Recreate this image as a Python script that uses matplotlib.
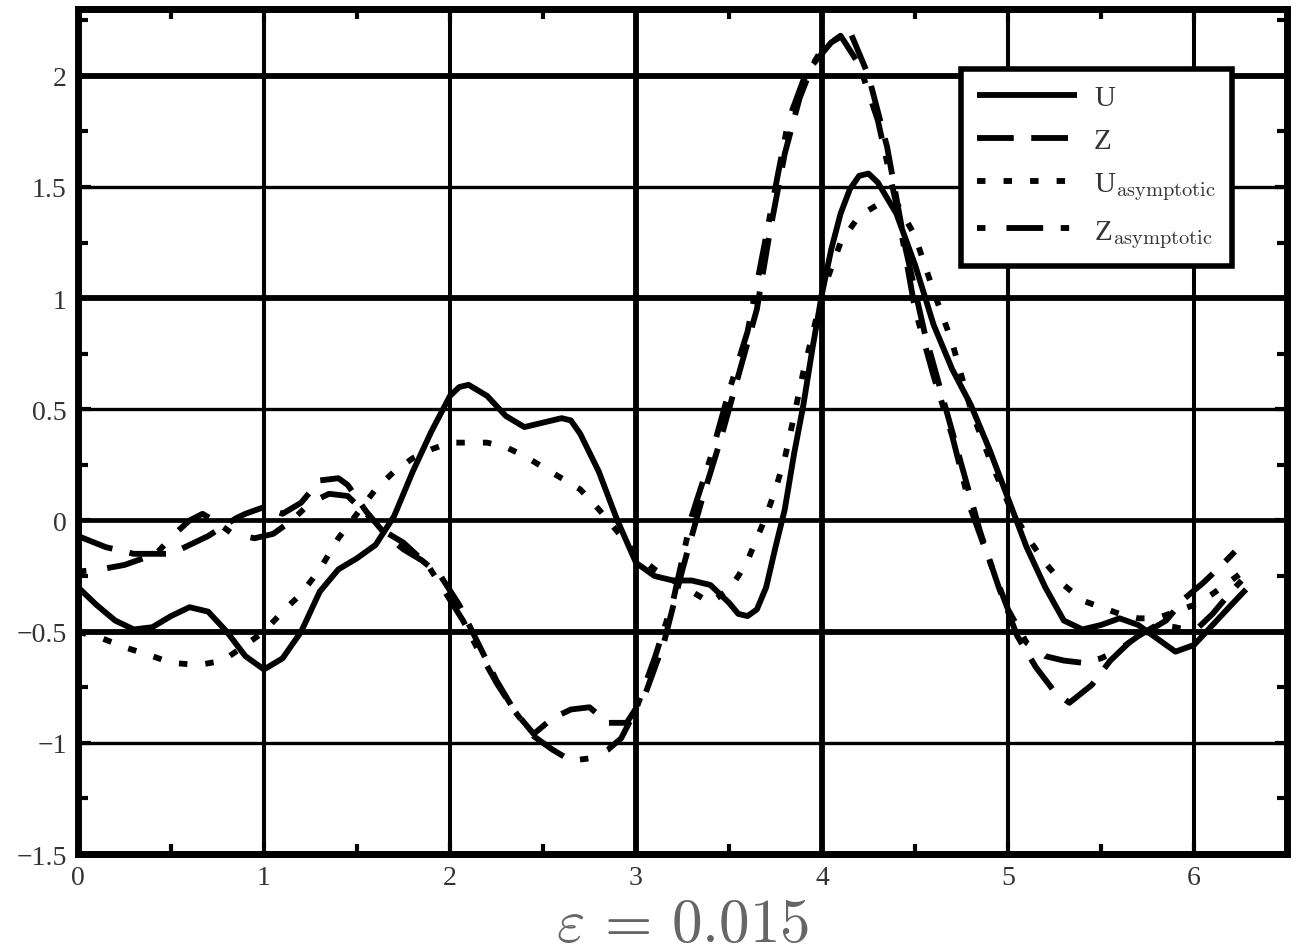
import numpy as np
import matplotlib
matplotlib.use("Agg")
import matplotlib.pyplot as plt
from matplotlib.ticker import FixedLocator, FixedFormatter, MultipleLocator

# ---------------- data ----------------
u_x = [0.0, 0.1, 0.2, 0.3, 0.4, 0.5, 0.6, 0.7, 0.8, 0.9, 1.0, 1.1, 1.2, 1.3, 1.4,
       1.5, 1.6, 1.7, 1.8, 1.9, 2.0, 2.05, 2.1, 2.2, 2.3, 2.4, 2.5, 2.6, 2.65, 2.7,
       2.8, 2.9, 3.0, 3.1, 3.2, 3.3, 3.4, 3.5, 3.55, 3.6, 3.65, 3.7, 3.75, 3.8, 3.85,
       3.9, 3.95, 4.0, 4.05, 4.1, 4.15, 4.2, 4.25, 4.3, 4.4, 4.5, 4.6, 4.7, 4.8, 4.9,
       5.0, 5.1, 5.2, 5.3, 5.4, 5.5, 5.6, 5.7, 5.8, 5.9, 6.0, 6.1, 6.2, 6.28]
u_y = [-0.30, -0.38, -0.45, -0.49, -0.48, -0.43, -0.39, -0.41, -0.50, -0.61, -0.67, -0.62, -0.50, -0.32, -0.22,
       -0.17, -0.11, 0.02, 0.22, 0.40, 0.56, 0.60, 0.61, 0.56, 0.47, 0.42, 0.44, 0.46, 0.45, 0.39,
       0.22, 0.00, -0.19, -0.25, -0.27, -0.27, -0.29, -0.37, -0.42, -0.43, -0.40, -0.30, -0.12, 0.05, 0.30,
       0.52, 0.78, 1.02, 1.22, 1.38, 1.49, 1.55, 1.56, 1.52, 1.38, 1.15, 0.88, 0.68, 0.52, 0.32,
       0.10, -0.12, -0.30, -0.45, -0.49, -0.47, -0.44, -0.47, -0.53, -0.59, -0.56, -0.47, -0.38, -0.31]

z_x = [0.0, 0.15, 0.3, 0.5, 0.7, 0.85, 0.9, 1.0, 1.1, 1.2, 1.3, 1.4, 1.45, 1.55, 1.65,
       1.75, 1.85, 1.95, 2.05, 2.15, 2.25, 2.35, 2.45, 2.55, 2.65, 2.75, 2.85, 2.95, 3.05,
       3.15, 3.25, 3.35, 3.45, 3.55, 3.65, 3.72, 3.8, 3.88, 3.95, 4.05, 4.15, 4.25, 4.35,
       4.45, 4.55, 4.65, 4.75, 4.85, 4.95, 5.05, 5.15, 5.25, 5.33, 5.45, 5.55, 5.65, 5.75,
       5.85, 5.95, 6.05, 6.15, 6.22]
z_y = [-0.07, -0.12, -0.15, -0.15, -0.07, 0.01, 0.03, 0.06, 0.03, 0.08, 0.18, 0.19, 0.16, 0.04, -0.06,
       -0.13, -0.18, -0.25, -0.38, -0.55, -0.72, -0.86, -0.96, -0.89, -0.85, -0.84, -0.91, -0.91, -0.78,
       -0.55, -0.22, 0.08, 0.35, 0.65, 0.95, 1.30, 1.65, 1.90, 2.05, 2.15, 2.20, 2.00, 1.68,
       1.22, 0.85, 0.55, 0.25, -0.05, -0.30, -0.52, -0.66, -0.77, -0.82, -0.74, -0.63, -0.55, -0.50,
       -0.45, -0.35, -0.28, -0.20, -0.14]

ua_x = [0.0, 0.13, 0.25, 0.4, 0.5, 0.65, 0.78, 0.9, 1.0, 1.1, 1.2, 1.3, 1.4, 1.5, 1.6,
        1.7, 1.8, 1.9, 2.0, 2.1, 2.2, 2.3, 2.4, 2.5, 2.6, 2.7, 2.8, 2.9, 3.0, 3.1,
        3.2, 3.3, 3.4, 3.5, 3.55, 3.6, 3.65, 3.7, 3.75, 3.8, 3.85, 3.9, 3.95, 4.0, 4.1,
        4.2, 4.3, 4.4, 4.5, 4.6, 4.7, 4.8, 4.9, 5.0, 5.1, 5.2, 5.3, 5.4, 5.5, 5.6,
        5.7, 5.8, 5.9, 6.0, 6.1, 6.2, 6.28]
ua_y = [-0.50, -0.53, -0.57, -0.61, -0.64, -0.65, -0.63, -0.56, -0.50, -0.41, -0.33, -0.22, -0.08, 0.03, 0.14,
        0.22, 0.28, 0.32, 0.35, 0.35, 0.35, 0.33, 0.29, 0.24, 0.19, 0.14, 0.05, -0.05, -0.15, -0.22,
        -0.27, -0.32, -0.37, -0.31, -0.25, -0.18, -0.08, 0.02, 0.14, 0.28, 0.47, 0.67, 0.84, 1.02, 1.25,
        1.37, 1.42, 1.43, 1.28, 1.03, 0.80, 0.50, 0.28, 0.08, -0.07, -0.19, -0.29, -0.36, -0.39, -0.42,
        -0.44, -0.44, -0.41, -0.38, -0.33, -0.27, -0.22]

za_x = [0.0, 0.12, 0.25, 0.42, 0.52, 0.6, 0.67, 0.75, 0.83, 0.95, 1.05, 1.15, 1.25, 1.35, 1.45,
        1.55, 1.65, 1.75, 1.88, 1.98, 2.07, 2.15, 2.25, 2.35, 2.45, 2.55, 2.65, 2.75, 2.85,
        2.92, 3.0, 3.1, 3.2, 3.3, 3.4, 3.5, 3.6, 3.67, 3.75, 3.82, 3.9, 4.0, 4.1, 4.2,
        4.3, 4.4, 4.5, 4.6, 4.7, 4.8, 4.9, 5.0, 5.1, 5.2, 5.3, 5.4, 5.5, 5.6, 5.7,
        5.8, 5.9, 6.0, 6.1, 6.2, 6.3]
za_y = [-0.23, -0.22, -0.20, -0.15, -0.06, 0.00, 0.03, -0.01, -0.06, -0.08, -0.06, 0.00, 0.08, 0.12, 0.11,
        0.03, -0.05, -0.10, -0.20, -0.33, -0.45, -0.58, -0.73, -0.86, -0.97, -1.03, -1.08, -1.07, -1.03,
        -0.98, -0.85, -0.62, -0.36, 0.02, 0.28, 0.58, 0.85, 1.15, 1.50, 1.80, 1.98, 2.12, 2.18, 2.05,
        1.80, 1.42, 0.95, 0.65, 0.38, 0.05, -0.18, -0.40, -0.55, -0.61, -0.63, -0.64, -0.62, -0.58, -0.52,
        -0.47, -0.48, -0.50, -0.42, -0.32, -0.23]

x_ticks = [0, 1, 2, 3, 4, 5, 6]
x_ticklabels = ['0', '1', '2', '3', '4', '5', '6']
y_ticks = [-1.5, -1, -0.5, 0, 0.5, 1, 1.5, 2]
y_ticklabels = ['\u22121.5', '\u22121', '\u22120.5', '0', '0.5', '1', '1.5', '2']
series_labels = ['U', 'Z', r'U$_{\mathrm{asymptotic}}$', r'Z$_{\mathrm{asymptotic}}$']
xlabel_text = r'$\varepsilon\,=\,0.015$'

# ---------------- drawing ----------------
plt.rcParams['font.family'] = ['Liberation Serif', 'DejaVu Serif']
plt.rcParams['mathtext.fontset'] = 'cm'

fig = plt.figure(figsize=(12.97, 9.53), dpi=100)
ax = fig.add_axes([0.0601, 0.1028, 0.9322, 0.8867])

lw = 4.2
ax.plot(u_x, u_y, color='black', lw=lw, solid_capstyle='butt', solid_joinstyle='round',
        label=series_labels[0], zorder=3)
ax.plot(z_x, z_y, color='black', lw=lw, linestyle=(0, (6.3, 3.0)), dash_capstyle='butt',
        label=series_labels[1], zorder=3)
ax.plot(ua_x, ua_y, color='black', lw=lw, linestyle=(0, (1.45, 3.1)), dash_capstyle='butt',
        label=series_labels[2], zorder=3)
ax.plot(za_x, za_y, color='black', lw=lw, linestyle=(0, (1.45, 3.6, 6.3, 3.0)), dash_capstyle='butt',
        label=series_labels[3], zorder=3)

ax.set_xlim(0, 6.5)
ax.set_ylim(-1.5, 2.3)

ax.xaxis.set_major_locator(FixedLocator(x_ticks))
ax.xaxis.set_major_formatter(FixedFormatter(x_ticklabels))
ax.yaxis.set_major_locator(FixedLocator(y_ticks))
ax.yaxis.set_major_formatter(FixedFormatter(y_ticklabels))
ax.xaxis.set_minor_locator(MultipleLocator(0.5))
ax.yaxis.set_minor_locator(MultipleLocator(0.25))

ax.tick_params(which='both', direction='in', top=True, right=True, color='black')
ax.tick_params(which='major', length=9, width=3, labelsize=20, pad=8, labelcolor='#333333')
ax.tick_params(which='minor', length=7, width=3)

ax.grid(True, which='major', color='black', lw=2.4, zorder=1)
# some grid lines look heavier in the reference raster
for i, gl in enumerate(ax.get_ygridlines()):
    if y_ticklabels[i] in ('2', '1', '\u22120.5'):
        gl.set_linewidth(4.2)
    elif y_ticklabels[i] == '0':
        gl.set_linewidth(3.4)
for i, gl in enumerate(ax.get_xgridlines()):
    if x_ticklabels[i] in ('3', '4'):
        gl.set_linewidth(4.2)
    else:
        gl.set_linewidth(2.9)

for sp in ax.spines.values():
    sp.set_linewidth(5)
    sp.set_color('black')

ax.set_xlabel(xlabel_text, fontsize=44, color='#666666', labelpad=6)

leg = ax.legend(loc='upper right', bbox_to_anchor=(0.9545, 0.929), borderaxespad=0,
                fontsize=21, handlelength=3.4, handletextpad=0.6, labelspacing=0.55,
                fancybox=False, framealpha=1, edgecolor='black', borderpad=0.55)
leg.get_frame().set_linewidth(4)
for t in leg.get_texts():
    t.set_color('#333333')

fig.savefig('out.png', dpi=100)
